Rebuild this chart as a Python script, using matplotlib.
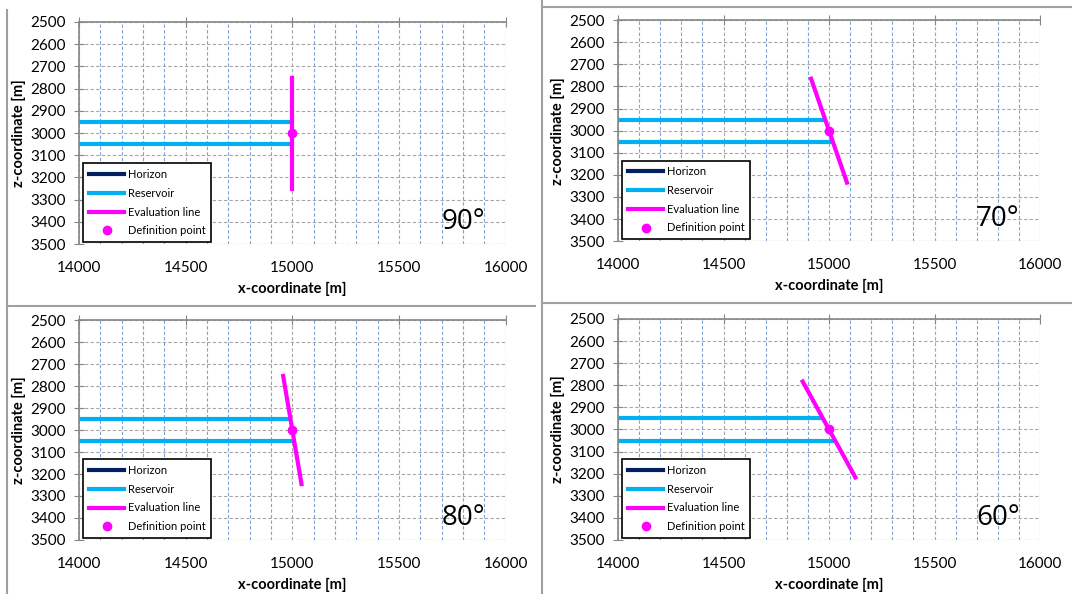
import matplotlib.pyplot as plt
from matplotlib.lines import Line2D
from matplotlib.ticker import MultipleLocator

plt.rcParams['font.family'] = ['Lato', 'DejaVu Sans']

# values
angles = ['90°', '70°', '80°', '60°']
# evaluation line end points (x, z)
eval_x = [[15000, 15000], [14915, 15085], [14957, 15043], [14875, 15125]]
eval_z = [[2750, 3250], [2765, 3235], [2754, 3246], [2783, 3217]]
# reservoir top / base lines, from x = 14000 to where they meet the evaluation line
res_top_z = 2950
res_base_z = 3050
res_top_x = [[14000, 15000], [14000, 14982], [14000, 14991], [14000, 14971]]
res_base_x = [[14000, 15000], [14000, 15018], [14000, 15009], [14000, 15029]]
def_x = 15000
def_z = 3000

c_hor = '#002060'
c_res = '#00B0F0'
c_eval = '#FF00FF'
c_grid = '#A6A6A6'
c_grid_b = '#7FA3D6'
c_axis = '#868686'

fig = plt.figure(figsize=(10.72, 5.94), dpi=100)

# panel axes rectangles (left, bottom, width, height) in figure fraction
rects = [
    [0.0737, 0.589, 0.398, 0.374],
    [0.5765, 0.594, 0.3937, 0.372],
    [0.0737, 0.091, 0.398, 0.370],
    [0.5765, 0.091, 0.3937, 0.372],
]

for i, r in enumerate(rects):
    ax = fig.add_axes(r)
    ax.set_xlim(14000, 16000)
    ax.set_ylim(3500, 2500)

    ax.xaxis.set_major_locator(MultipleLocator(500))
    ax.xaxis.set_minor_locator(MultipleLocator(100))
    ax.yaxis.set_major_locator(MultipleLocator(100))

    # excel-like dashed grid
    ax.grid(which='minor', axis='x', color=c_grid_b, linestyle=(0, (3, 2)), linewidth=0.8)
    ax.grid(which='major', axis='x', color=c_grid, linestyle=(0, (3, 2)), linewidth=0.8)
    ax.grid(which='major', axis='y', color=c_grid, linestyle=(0, (3, 2)), linewidth=0.8)
    ax.set_axisbelow(True)
    ax.axvline(16000, color=c_grid, linestyle=(0, (3, 2)), linewidth=0.8, zorder=0)
    ax.axhline(3500, color=c_grid, linestyle=(0, (3, 2)), linewidth=0.8, zorder=0)

    for s in ['right', 'bottom']:
        ax.spines[s].set_visible(False)
    for s in ['left', 'top']:
        ax.spines[s].set_color(c_axis)
        ax.spines[s].set_linewidth(1.2)

    ax.tick_params(axis='x', which='major', top=True, bottom=False, labeltop=False,
                   labelbottom=True, direction='inout', length=7, color=c_axis,
                   labelsize=11, pad=8.5)
    ax.tick_params(axis='x', which='minor', top=False, bottom=False)
    ax.tick_params(axis='y', which='major', left=True, direction='inout', length=7,
                   color=c_axis, labelsize=11, pad=6)

    ax.set_xlabel('x-coordinate [m]', fontsize=10.5, fontweight='bold', labelpad=5)
    ax.set_ylabel('z-coordinate [m]', fontsize=10.5, fontweight='bold', labelpad=3)

    ax.plot([], [], color=c_hor, lw=3, label='Horizon')
    ax.plot(res_top_x[i], [res_top_z, res_top_z], color=c_res, lw=3, label='Reservoir',
            solid_capstyle='butt')
    ax.plot(res_base_x[i], [res_base_z, res_base_z], color=c_res, lw=3,
            solid_capstyle='butt')
    ax.plot(eval_x[i], eval_z[i], color=c_eval, lw=3, label='Evaluation line')
    ax.plot([def_x], [def_z], 'o', color=c_eval, ms=6, label='Definition point')

    handles = [
        Line2D([], [], color=c_hor, lw=3),
        Line2D([], [], color=c_res, lw=3),
        Line2D([], [], color=c_eval, lw=3),
        Line2D([], [], color=c_eval, marker='o', ms=6, lw=0),
    ]
    leg = ax.legend(handles, ['Horizon', 'Reservoir', 'Evaluation line', 'Definition point'],
                    loc='lower left', bbox_to_anchor=(0.01, 0.01), fontsize=8,
                    fancybox=False, framealpha=1, edgecolor='black',
                    handlelength=3.2, handletextpad=0.3, borderpad=0.5,
                    labelspacing=0.7, borderaxespad=0)
    leg.get_frame().set_linewidth(1.2)

    ax.text(0.90, 0.10, angles[i], transform=ax.transAxes, fontsize=20,
            ha='center', va='center', family=['Open Sans', 'DejaVu Sans'])

# panel separators
W, H = 1072, 594
def fline(xs, ys):
    fig.add_artist(Line2D([x / W for x in xs], [1 - y / H for y in ys],
                          color='#A0A0A0', lw=1.5))

fline([7, 7], [10, 594])
fline([7, 535], [306, 306])
fline([542, 542], [0, 594])
fline([542, 1072], [7, 7])
fline([542, 1072], [303, 303])

fig.savefig('out.png', dpi=100)
